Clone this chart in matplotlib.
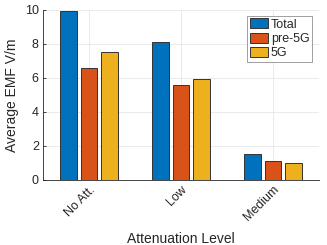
import numpy as np
import matplotlib.pyplot as plt
import matplotlib.transforms as mtransforms

plt.rcParams['font.family'] = ['Liberation Sans', 'DejaVu Sans']

# data
categories = ['No Att.', 'Low', 'Medium']
total = [9.95, 8.12, 1.52]
pre_5g = [6.55, 5.55, 1.12]
five_g = [7.5, 5.95, 1.0]
series_names = ['Total', 'pre-5G', '5G']
colors = ['#0072BD', '#D95319', '#EDB120']

text_col = '#262626'

fig = plt.figure(figsize=(3.27, 2.45), dpi=100)
ax = fig.add_axes([43 / 327, 1 - 179.5 / 245, 276 / 327, 169.5 / 245])

x = np.arange(1, len(categories) + 1)
width = 0.18
offset = 0.222
for i, (vals, name, col) in enumerate(zip([total, pre_5g, five_g], series_names, colors)):
    ax.bar(x + (i - 1) * offset, vals, width, color=col, edgecolor='#333333',
           linewidth=0.7, label=name, zorder=3)

ax.set_xlim(0.5, 3.5)
ax.set_ylim(0, 10)
ax.set_yticks(range(0, 11, 2))
ax.set_xticks(x)
ax.set_xticklabels(categories, rotation=45, ha='right', rotation_mode='anchor')
# nudge rotated labels a little right/down like the MATLAB output
shift = mtransforms.ScaledTranslation(3.5 / 100, -1.5 / 100, fig.dpi_scale_trans)
for lbl in ax.get_xticklabels():
    lbl.set_transform(lbl.get_transform() + shift)

ax.grid(True, color='#e6e6e6', linewidth=0.6, zorder=0)
ax.set_axisbelow(True)
for side in ['top', 'right']:
    ax.spines[side].set_visible(False)
for side in ['left', 'bottom']:
    ax.spines[side].set_color(text_col)
    ax.spines[side].set_linewidth(0.6)

ax.tick_params(direction='in', length=2.5, width=0.6, colors=text_col,
               labelsize=9, pad=3)
ax.set_ylabel('Average EMF V/m', fontsize=10, color=text_col, labelpad=4)
ax.set_xlabel('Attenuation Level', fontsize=10, color=text_col, labelpad=6)

leg = ax.legend(loc='upper right', bbox_to_anchor=(0.975, 0.965), fontsize=9,
                handlelength=1.5, handleheight=0.85, handletextpad=0.2,
                labelspacing=0.15, borderpad=0.2, borderaxespad=0,
                fancybox=False, framealpha=1)
leg.get_frame().set_edgecolor('#a0a0a0')
leg.get_frame().set_linewidth(0.7)
for t in leg.get_texts():
    t.set_color(text_col)

fig.savefig('out.png', dpi=100)
